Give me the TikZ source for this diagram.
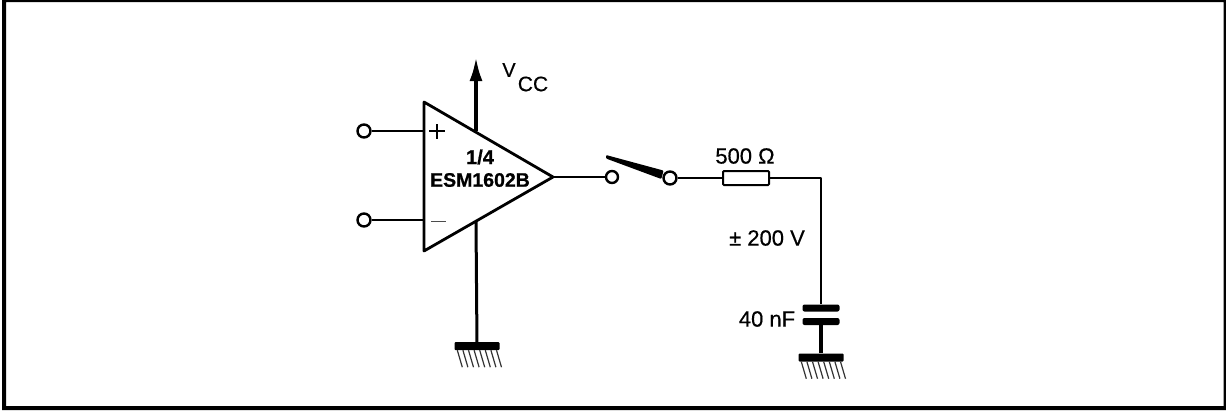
\documentclass[tikz,border=0pt]{standalone}
\usepackage{fontspec}
\setmainfont[FakeBold=0.5]{Liberation Sans}
\newfontfamily\partfont[FakeBold=0.8]{Liberation Sans Bold}
\usetikzlibrary{arrows.meta, positioning, calc}
\tikzstyle{wire} = [line width=2.2pt, line join=round]
\tikzstyle{thinwire} = [line width=1.4pt]
\tikzstyle{supply} = [line width=3.6pt]
\tikzstyle{terminal} = [circle, draw, line width=2.4pt, fill=white, inner sep=0pt, minimum size=13pt]
\tikzstyle{resistor} = [rectangle, draw, line width=2pt, rounded corners=1pt, inner sep=0pt, minimum width=46pt, minimum height=14pt]
\tikzstyle{plate} = [rectangle, fill=black, rounded corners=2pt, inner sep=0pt, minimum width=37pt, minimum height=7pt]
\tikzstyle{earth} = [rectangle, fill=black, rounded corners=1pt, inner sep=0pt, minimum width=45pt, minimum height=8pt]
\tikzstyle{hatch} = [line width=1.2pt, black!80]
\tikzstyle{sign} = [inner sep=0pt, fill=black]
\tikzstyle{label} = [inner sep=0pt, font=\fontsize{22}{24}\selectfont]
\begin{document}
\begin{tikzpicture}[x=1pt, y=-1pt]
        \useasboundingbox (0,0) rectangle (1226,410);
        \fill [white] (0,0) rectangle (1226,410);
        \fill [even odd rule] (2,0) rectangle (1226,410) (6,2) rectangle (1223.5,406);

        % amplifier corners and the points where the supply meets it
        \coordinate (amp_top) at (424,102);
        \coordinate (amp_bot) at (424,251);
        \coordinate (amp_out) at (553,177);
        \coordinate (vcc_in) at (476,131);
        \coordinate (gnd_in) at (476,222);
        \coordinate (vcc_end) at (476,57);
        \coordinate (plus_in) at (424,131);
        \coordinate (minus_in) at (424,220);
        \coordinate (corner) at (821,178);
        \coordinate (blade_end) at (606,155);

        \node (in_plus) [terminal] at (364,131) {};
        \node (in_minus) [terminal] at (364,220) {};
        \node (sw_in) [terminal, minimum size=12pt] at (612,177) {};
        \node (sw_out) [terminal, minimum size=13pt] at (670,178) {};
        \node (res) [resistor] at (746,178) {};
        \node (cap_top) [plate] at (821,308) {};
        \node (cap_bot) [plate] at (821,321.5) {};
        \node (gnd_amp) [earth] at (477,346) {};
        \node (gnd_cap) [earth] at (821,357.5) {};

        \draw [wire, line width=2.8pt] (amp_top) -- (amp_out) -- (amp_bot) -- cycle;
        \draw [supply, -{Latex[length=24pt, width=13pt]}] (vcc_in) -- (vcc_end);
        \draw [wire, line width=3pt] (gnd_in) -- (gnd_amp);
        \draw [thinwire] (in_plus) -- (plus_in);
        \draw [wire] (in_minus) -- (minus_in);
        \draw [wire] (amp_out) -- (sw_in);
        \fill [rounded corners=1pt] (blade_end) -- ($(sw_out.north west)+(-1,-2)$) -- ($(sw_out.west)+(-1,1)$) -- ($(blade_end)+(0,3.5)$) -- cycle;
        \draw [wire] (sw_out) -- (res);
        \draw [wire, line width=2.6pt] (res) -- (corner) -- (cap_top);
        \draw [supply] (cap_bot) -- (gnd_cap);

        \foreach \gnd in {gnd_amp, gnd_cap}
            \foreach \i in {0,...,7}
                \draw [hatch] ($(\gnd.south west)+(3+\i*5.6,0)$) -- ++(5,17);

        \node (plus_h) [sign, minimum width=16pt, minimum height=1.2pt] at (437,131) {};
        \node (plus_v) [sign, minimum width=2.5pt, minimum height=15pt] at (437,131) {};
        \node (minus_sign) [sign, minimum width=15pt, minimum height=1pt, fill=black!70] at (438,221) {};

        \node (frac) [label, font=\partfont\fontsize{20}{22}\selectfont] at (480,157) {1/4};
        \node (part) [label, font=\partfont\fontsize{19.5}{21}\selectfont] at (480,180) {ESM1602B};
        \node (vcc_v) [label, font=\fontsize{20}{22}\selectfont] at (509,70) {V};
        \node (vcc_cc) [label, font=\fontsize{21}{23}\selectfont] at (533,84) {CC};
        \node (res_val) [label] at (745,156) {500 Ω};
        \node (volt) [label] at (767,238) {± 200 V};
        \node (cap_val) [label] at (767,319) {40 nF};
    \end{tikzpicture}
\end{document}
